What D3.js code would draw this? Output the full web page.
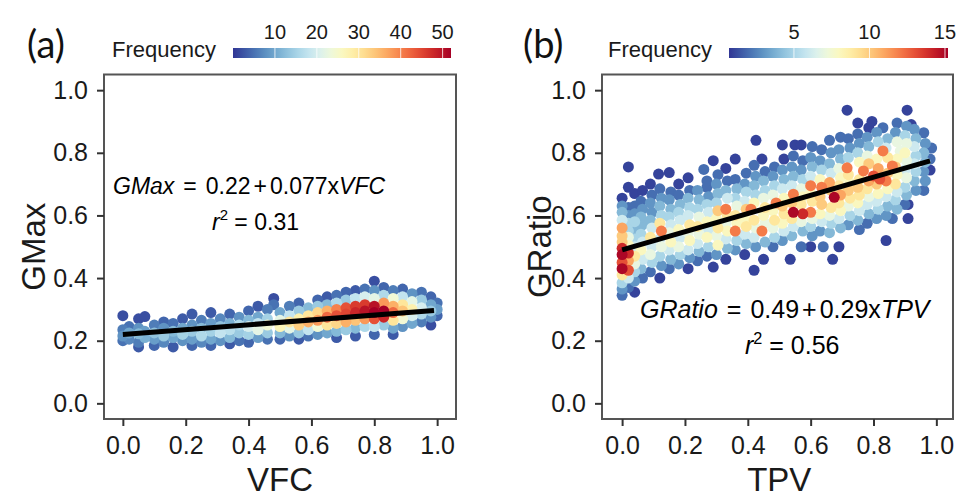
<!DOCTYPE html>
<html>
<head>
<meta charset="utf-8">
<script src="https://cdn.jsdelivr.net/npm/d3@7"></script>
<style>
  body { margin: 0; background: #fff; }
  svg { display: block; }
</style>
</head>
<body>
<svg id="chart" width="957" height="497"></svg>
<script>
// ---- shared axis ticks ----
const axisTicks = [0.0, 0.2, 0.4, 0.6, 0.8, 1.0];

// ---- panel (a): GMax vs VFC, [VFC, GMax, frequency] ----
const vfcPoints = [
  [0.00,0.280,2],[0.00,0.235,6],[0.00,0.215,8],[0.00,0.200,5],
  [0.02,0.225,10],[0.02,0.205,7],[0.02,0.245,5],
  [0.05,0.270,2],[0.05,0.222,12],[0.05,0.195,6],[0.05,0.240,8],[0.05,0.180,3],
  [0.07,0.277,2],[0.07,0.210,11],[0.07,0.230,9],
  [0.10,0.250,6],[0.10,0.225,13],[0.10,0.205,9],[0.10,0.185,4],
  [0.13,0.240,8],[0.13,0.215,14],[0.13,0.195,7],[0.13,0.260,4],
  [0.16,0.255,5],[0.16,0.230,12],[0.16,0.210,10],[0.16,0.180,3],
  [0.19,0.270,3],[0.19,0.240,10],[0.19,0.220,15],[0.19,0.200,8],
  [0.22,0.285,3],[0.22,0.250,8],[0.22,0.230,14],[0.22,0.205,9],[0.22,0.185,4],
  [0.25,0.265,6],[0.25,0.240,12],[0.25,0.215,16],[0.25,0.195,7],
  [0.28,0.290,3],[0.28,0.255,9],[0.28,0.230,15],[0.28,0.205,10],[0.28,0.185,4],
  [0.31,0.270,7],[0.31,0.245,13],[0.31,0.225,18],[0.31,0.200,8],
  [0.34,0.285,4],[0.34,0.255,11],[0.34,0.235,17],[0.34,0.210,12],[0.34,0.190,3],
  [0.37,0.275,8],[0.37,0.250,16],[0.37,0.225,14],[0.37,0.200,5],
  [0.40,0.295,4],[0.40,0.265,12],[0.40,0.245,20],[0.40,0.220,15],[0.40,0.195,4],
  [0.43,0.310,3],[0.43,0.275,10],[0.43,0.255,18],[0.43,0.235,22],[0.43,0.210,9],
  [0.46,0.300,6],[0.46,0.270,15],[0.46,0.250,24],[0.46,0.225,14],[0.46,0.205,5],
  [0.48,0.335,2],[0.48,0.315,5],
  [0.50,0.290,10],[0.50,0.265,22],[0.50,0.245,27],[0.50,0.225,12],[0.50,0.205,4],
  [0.53,0.310,6],[0.53,0.280,18],[0.53,0.260,30],[0.53,0.240,22],[0.53,0.215,8],
  [0.56,0.320,4],[0.56,0.295,14],[0.56,0.270,28],[0.56,0.250,33],[0.56,0.225,14],[0.56,0.205,3],
  [0.59,0.305,12],[0.59,0.280,30],[0.59,0.260,36],[0.59,0.235,18],[0.59,0.215,5],
  [0.62,0.330,4],[0.62,0.310,14],[0.62,0.290,32],[0.62,0.265,38],[0.62,0.245,24],[0.62,0.220,8],
  [0.65,0.340,3],[0.65,0.315,12],[0.65,0.295,36],[0.65,0.275,42],[0.65,0.250,30],[0.65,0.225,10],
  [0.68,0.345,5],[0.68,0.320,16],[0.68,0.300,40],[0.68,0.280,44],[0.68,0.255,32],[0.68,0.230,12],[0.68,0.210,3],
  [0.71,0.355,4],[0.71,0.330,14],[0.71,0.305,44],[0.71,0.285,45],[0.71,0.260,36],[0.71,0.235,14],
  [0.74,0.360,3],[0.74,0.335,18],[0.74,0.310,46],[0.74,0.290,48],[0.74,0.265,34],[0.74,0.240,12],[0.74,0.215,3],
  [0.77,0.365,5],[0.77,0.340,20],[0.77,0.315,46],[0.77,0.295,50],[0.77,0.270,38],[0.77,0.245,16],
  [0.80,0.390,2],[0.80,0.360,8],[0.80,0.335,22],[0.80,0.310,50],[0.80,0.290,52],[0.80,0.270,44],[0.80,0.245,18],[0.80,0.220,4],
  [0.83,0.370,4],[0.83,0.345,16],[0.83,0.320,38],[0.83,0.295,52],[0.83,0.275,48],[0.83,0.250,14],
  [0.86,0.360,6],[0.86,0.335,24],[0.86,0.310,36],[0.86,0.290,42],[0.86,0.265,30],[0.86,0.240,10],[0.86,0.220,3],
  [0.89,0.365,4],[0.89,0.340,18],[0.89,0.315,30],[0.89,0.295,34],[0.89,0.270,24],[0.89,0.245,8],
  [0.92,0.350,8],[0.92,0.325,22],[0.92,0.300,28],[0.92,0.280,20],[0.92,0.255,10],
  [0.95,0.355,5],[0.95,0.330,14],[0.95,0.305,20],[0.95,0.285,16],[0.95,0.260,6],
  [0.98,0.340,4],[0.98,0.315,10],[0.98,0.295,14],[0.98,0.275,8],[0.98,0.250,2],
  [1.00,0.320,5],[1.00,0.300,9],[1.00,0.280,4]
];
const fitA = [0.22, 0.077];          // intercept, slope
const fitRangeA = [0.0, 0.99];
const freqDomainA = [0, 52];
const legendTicksA = [10, 20, 30, 40, 50];

// ---- panel (b): GRatio vs TPV, [TPV, GRatio, frequency] ----
const tpvPoints = [
  [0.00,0.345,2],[0.00,0.365,3],[0.00,0.385,5],[0.00,0.410,9],[0.00,0.430,15],[0.00,0.450,13],[0.00,0.475,15],[0.00,0.495,14],[0.00,0.515,10],[0.00,0.535,10],[0.00,0.560,11],[0.00,0.585,6],[0.00,0.610,4],[0.00,0.630,3],[0.00,0.655,1],
  [0.02,0.370,2],[0.02,0.400,6],[0.02,0.425,13],[0.02,0.455,11],[0.02,0.480,14],[0.02,0.505,8],[0.02,0.530,7],[0.02,0.550,5],[0.02,0.575,5],[0.02,0.600,3],[0.02,0.625,2],[0.02,0.690,1],[0.02,0.755,1],
  [0.04,0.355,1],[0.04,0.390,3],[0.04,0.420,5],[0.04,0.445,7],[0.04,0.470,9],[0.04,0.500,6],[0.04,0.525,5],[0.04,0.555,4],[0.04,0.580,5],[0.04,0.605,3],[0.04,0.630,2],[0.04,0.670,1],
  [0.065,0.400,2],[0.06,0.430,4],[0.065,0.460,6],[0.06,0.490,8],[0.065,0.515,6],[0.06,0.540,5],[0.065,0.570,4],[0.06,0.595,4],[0.065,0.620,3],[0.06,0.645,2],[0.065,0.680,1],
  [0.09,0.420,2],[0.095,0.450,5],[0.09,0.475,7],[0.095,0.500,6],[0.09,0.530,9],[0.095,0.560,6],[0.09,0.585,4],[0.095,0.610,3],[0.09,0.640,3],[0.095,0.665,2],[0.09,0.700,1],
  [0.12,0.400,1],[0.125,0.440,3],[0.12,0.470,5],[0.125,0.500,7],[0.12,0.525,6],[0.125,0.550,12],[0.12,0.575,9],[0.125,0.600,5],[0.12,0.630,4],[0.125,0.655,3],[0.12,0.685,2],[0.116,0.732,1],
  [0.15,0.430,2],[0.155,0.460,4],[0.15,0.490,6],[0.155,0.515,8],[0.15,0.545,7],[0.155,0.570,6],[0.15,0.595,5],[0.155,0.620,4],[0.15,0.650,3],[0.155,0.675,2],[0.15,0.737,1],
  [0.18,0.445,3],[0.185,0.475,5],[0.18,0.500,7],[0.185,0.530,6],[0.18,0.555,8],[0.185,0.585,6],[0.18,0.610,5],[0.185,0.635,4],[0.18,0.665,2],[0.18,0.700,1],
  [0.21,0.430,1],[0.215,0.465,3],[0.21,0.490,6],[0.215,0.520,8],[0.21,0.545,7],[0.215,0.570,9],[0.21,0.600,6],[0.215,0.625,5],[0.21,0.655,4],[0.215,0.680,2],[0.21,0.720,1],
  [0.24,0.455,2],[0.245,0.485,4],[0.24,0.510,6],[0.245,0.540,7],[0.24,0.565,9],[0.245,0.595,7],[0.24,0.620,5],[0.245,0.650,4],[0.24,0.680,3],[0.26,0.747,2],
  [0.27,0.470,2],[0.275,0.500,5],[0.27,0.530,8],[0.275,0.555,6],[0.27,0.580,8],[0.275,0.610,6],[0.27,0.635,5],[0.275,0.660,3],[0.27,0.690,2],[0.27,0.710,2],
  [0.29,0.435,1],[0.29,0.775,1],
  [0.30,0.475,3],[0.305,0.505,8],[0.30,0.535,7],[0.305,0.560,9],[0.30,0.590,8],[0.305,0.615,10],[0.30,0.640,5],[0.305,0.670,4],[0.30,0.700,3],[0.305,0.730,2],
  [0.33,0.460,1],[0.335,0.495,4],[0.33,0.525,6],[0.335,0.550,8],[0.33,0.575,7],[0.335,0.600,9],[0.33,0.620,12],[0.335,0.655,6],[0.33,0.680,4],[0.335,0.710,2],[0.33,0.750,1],
  [0.36,0.490,3],[0.365,0.520,5],[0.36,0.550,12],[0.365,0.575,8],[0.36,0.600,9],[0.365,0.630,7],[0.36,0.655,5],[0.365,0.685,4],[0.36,0.715,2],[0.36,0.780,1],
  [0.39,0.475,1],[0.395,0.510,4],[0.39,0.540,6],[0.395,0.565,9],[0.39,0.590,8],[0.395,0.620,10],[0.39,0.645,6],[0.395,0.675,5],[0.39,0.700,3],[0.395,0.735,2],
  [0.42,0.425,1],[0.425,0.500,3],[0.42,0.530,6],[0.425,0.560,7],[0.42,0.585,9],[0.41,0.620,12],[0.42,0.640,8],[0.425,0.665,5],[0.42,0.695,4],[0.425,0.725,3],[0.42,0.760,2],[0.426,0.840,1],
  [0.45,0.460,1],[0.455,0.515,4],[0.445,0.550,12],[0.455,0.575,7],[0.45,0.600,8],[0.455,0.625,9],[0.45,0.655,7],[0.455,0.680,5],[0.45,0.710,4],[0.455,0.740,2],[0.445,0.780,1],
  [0.48,0.500,2],[0.485,0.530,5],[0.48,0.560,7],[0.485,0.585,9],[0.48,0.615,8],[0.49,0.640,12],[0.48,0.665,7],[0.485,0.695,5],[0.48,0.725,3],[0.485,0.755,2],
  [0.51,0.520,3],[0.515,0.550,6],[0.51,0.575,8],[0.515,0.605,9],[0.51,0.630,10],[0.515,0.655,8],[0.51,0.685,6],[0.515,0.715,4],[0.51,0.745,3],[0.515,0.780,1],[0.51,0.825,1],
  [0.535,0.460,1],[0.54,0.535,4],[0.545,0.565,6],[0.54,0.590,9],[0.545,0.610,15],[0.54,0.640,10],[0.545,0.668,12],[0.54,0.695,6],[0.545,0.725,4],[0.54,0.755,3],[0.545,0.790,2],[0.55,0.825,1],
  [0.57,0.500,2],[0.575,0.550,4],[0.57,0.580,7],[0.575,0.605,14],[0.57,0.635,9],[0.575,0.660,8],[0.57,0.685,7],[0.575,0.715,5],[0.57,0.745,3],[0.575,0.775,2],[0.57,0.825,1],
  [0.60,0.500,1],[0.605,0.535,3],[0.60,0.565,5],[0.605,0.590,7],[0.60,0.610,12],[0.605,0.645,9],[0.60,0.670,8],[0.60,0.695,12],[0.60,0.725,6],[0.605,0.755,4],[0.60,0.785,3],[0.605,0.820,2],
  [0.63,0.550,3],[0.635,0.580,6],[0.63,0.605,8],[0.635,0.635,10],[0.63,0.660,10],[0.635,0.690,12],[0.63,0.715,8],[0.635,0.745,5],[0.63,0.775,3],[0.635,0.810,2],
  [0.67,0.460,1],[0.64,0.500,2],[0.66,0.545,4],[0.665,0.575,5],[0.66,0.600,7],[0.665,0.625,9],[0.675,0.658,15],[0.665,0.680,10],[0.66,0.705,11],[0.665,0.735,6],[0.66,0.765,4],[0.665,0.800,3],[0.66,0.840,2],
  [0.69,0.500,1],[0.695,0.560,4],[0.69,0.590,6],[0.695,0.615,8],[0.69,0.640,9],[0.695,0.665,11],[0.69,0.695,9],[0.695,0.720,8],[0.69,0.750,7],[0.695,0.780,4],[0.69,0.810,3],[0.695,0.850,2],
  [0.716,0.936,1],[0.72,0.570,3],[0.725,0.600,5],[0.72,0.630,7],[0.725,0.655,9],[0.72,0.680,10],[0.725,0.705,8],[0.72,0.730,9],[0.716,0.752,12],[0.72,0.785,5],[0.725,0.815,3],[0.72,0.845,2],
  [0.75,0.895,1],[0.755,0.555,2],[0.75,0.585,4],[0.755,0.615,6],[0.75,0.640,8],[0.755,0.665,9],[0.75,0.690,10],[0.755,0.715,9],[0.768,0.742,12],[0.755,0.770,8],[0.75,0.800,5],[0.755,0.830,3],[0.75,0.860,2],
  [0.78,0.575,2],[0.785,0.605,4],[0.78,0.635,6],[0.785,0.660,7],[0.78,0.685,9],[0.785,0.710,11],[0.80,0.726,13],[0.785,0.765,10],[0.78,0.790,7],[0.785,0.820,4],[0.78,0.850,3],[0.785,0.880,1],
  [0.795,0.900,1],[0.81,0.590,3],[0.815,0.620,5],[0.81,0.645,6],[0.815,0.670,8],[0.81,0.700,10],[0.82,0.716,13],[0.815,0.750,11],[0.81,0.780,8],[0.83,0.806,12],[0.815,0.835,5],[0.81,0.865,3],
  [0.84,0.520,1],[0.83,0.880,2],[0.84,0.600,3],[0.845,0.630,4],[0.84,0.660,6],[0.845,0.685,8],[0.84,0.710,12],[0.845,0.735,10],[0.86,0.758,12],[0.845,0.785,9],[0.84,0.815,6],[0.845,0.845,4],
  [0.86,0.590,2],[0.875,0.620,4],[0.87,0.650,5],[0.875,0.675,6],[0.87,0.700,9],[0.875,0.730,8],[0.87,0.755,10],[0.875,0.780,8],[0.885,0.805,7],[0.875,0.835,7],[0.87,0.865,3],[0.875,0.895,2],
  [0.91,0.590,1],[0.90,0.635,2],[0.905,0.665,4],[0.90,0.690,5],[0.905,0.720,7],[0.90,0.745,6],[0.905,0.775,7],[0.90,0.800,8],[0.905,0.830,7],[0.90,0.855,5],[0.905,0.885,3],[0.907,0.936,1],
  [0.91,0.635,1],[0.935,0.680,3],[0.93,0.710,4],[0.935,0.740,5],[0.93,0.765,6],[0.935,0.790,5],[0.93,0.820,6],[0.935,0.845,4],[0.93,0.875,3],[0.92,0.890,1],
  [0.96,0.680,2],[0.965,0.710,3],[0.96,0.740,3],[0.965,0.770,4],[0.96,0.800,4],[0.965,0.830,3],[0.96,0.864,2],
  [0.98,0.745,1],[0.98,0.780,2],[0.985,0.815,2]
];
const fitB = [0.49, 0.29];
const fitRangeB = [0.0, 0.98];
const freqDomainB = [0.7, 15.2];
const legendTicksB = [5, 10, 15];

// ---- drawing ----
const svg = d3.select("#chart");
const defs = svg.append("defs");
const tickFont = "'Liberation Sans', Arial, sans-serif";
const plotTop = 74.5, plotBottom = 419;

function drawPanel(cfg) {
  const g = svg.append("g");
  const x = d3.scaleLinear().domain(cfg.xDomain).range([cfg.left, cfg.right]);
  const y = d3.scaleLinear().domain([-0.05, 1.05]).range([plotBottom, plotTop]);
  const color = d3.scaleSequential(t => d3.interpolateRdYlBu(1 - t)).domain(cfg.freqDomain);

  // density-coloured points, highest frequency drawn last
  const pts = cfg.points.slice().sort((a, b) => a[2] - b[2]);
  g.append("g").selectAll("circle").data(pts).join("circle")
    .attr("cx", d => x(d[0]))
    .attr("cy", d => y(d[1]))
    .attr("r", 5.5)
    .attr("fill", d => color(d[2]));

  // least-squares fit
  const [b0, b1] = cfg.fit;
  g.append("line")
    .attr("x1", x(cfg.fitRange[0])).attr("y1", y(b0 + b1 * cfg.fitRange[0]))
    .attr("x2", x(cfg.fitRange[1])).attr("y2", y(b0 + b1 * cfg.fitRange[1]))
    .attr("stroke", "#000").attr("stroke-width", 5);

  // panel border
  g.append("rect")
    .attr("x", cfg.left).attr("y", plotTop)
    .attr("width", cfg.right - cfg.left).attr("height", plotBottom - plotTop)
    .attr("fill", "none").attr("stroke", "#555").attr("stroke-width", 2);

  // axes
  const fmt = d3.format(".1f");
  const xAxis = g.append("g").attr("transform", `translate(0,${plotBottom})`)
    .call(d3.axisBottom(x).tickValues(axisTicks).tickFormat(fmt).tickSize(7).tickPadding(10));
  const yAxis = g.append("g").attr("transform", `translate(${cfg.left},0)`)
    .call(d3.axisLeft(y).tickValues(axisTicks).tickFormat(fmt).tickSize(7).tickPadding(9));
  [xAxis, yAxis].forEach(a => {
    a.select(".domain").remove();
    a.selectAll(".tick line").attr("stroke", "#333").attr("stroke-width", 2);
    a.selectAll(".tick text").attr("fill", "#1a1a1a")
      .style("font-family", tickFont).style("font-size", "25px");
  });

  // axis titles
  g.append("text").attr("x", (x(0) + x(1)) / 2).attr("y", 491)
    .attr("text-anchor", "middle").style("font-family", tickFont).style("font-size", "33px")
    .attr("fill", "#1a1a1a").text(cfg.xTitle);
  g.append("text")
    .attr("transform", `translate(${cfg.yTitleX},${(plotTop + plotBottom) / 2}) rotate(-90)`)
    .attr("text-anchor", "middle").style("font-family", tickFont).style("font-size", "33px")
    .attr("fill", "#1a1a1a").text(cfg.yTitle);

  // panel tag
  g.append("text").attr("x", cfg.tagX).attr("y", 58)
    .style("font-family", "Lato, 'Open Sans', sans-serif").style("font-size", "38px")
    .attr("fill", "#111").text(cfg.tag);

  // colour-bar legend
  g.append("text").attr("x", cfg.legendTextX).attr("y", 57)
    .style("font-family", tickFont).style("font-size", "22px").attr("fill", "#1a1a1a")
    .text("Frequency");
  const lx = d3.scaleLinear().domain(cfg.freqDomain).range(cfg.barRange);
  const gradId = "grad-" + cfg.tag.replace(/\W/g, "");
  const grad = defs.append("linearGradient").attr("id", gradId)
    .attr("x1", "0%").attr("x2", "100%");
  d3.range(0, 1.0001, 0.05).forEach(t => {
    grad.append("stop").attr("offset", (t * 100) + "%")
      .attr("stop-color", color(cfg.freqDomain[0] + t * (cfg.freqDomain[1] - cfg.freqDomain[0])));
  });
  g.append("rect").attr("x", cfg.barRange[0]).attr("y", 48)
    .attr("width", cfg.barRange[1] - cfg.barRange[0]).attr("height", 10)
    .attr("fill", `url(#${gradId})`);
  g.append("g").selectAll("line").data(cfg.legendTicks).join("line")
    .attr("x1", d => lx(d)).attr("x2", d => lx(d))
    .attr("y1", 48).attr("y2", 58)
    .attr("stroke", "#fff").attr("stroke-width", 1).attr("opacity", 0.8);
  g.append("g").selectAll("text").data(cfg.legendTicks).join("text")
    .attr("x", d => lx(d)).attr("y", 39).attr("text-anchor", "middle")
    .style("font-family", tickFont).style("font-size", "20px").attr("fill", "#1a1a1a")
    .text(d => d);

  // regression equation and r-squared
  const eq = g.append("text").attr("x", cfg.eqX).attr("y", cfg.eqY)
    .style("font-family", tickFont).style("font-size", cfg.eqSize + "px").attr("fill", "#000");
  eq.append("tspan").style("font-style", "italic").text(cfg.yTitle);
  eq.append("tspan").attr("dx", cfg.eqGap).text("=");
  eq.append("tspan").attr("dx", cfg.eqGap).text(b0.toFixed(2));
  eq.append("tspan").attr("dx", 3).text("+");
  eq.append("tspan").attr("dx", 3).text(String(b1) + "x");
  eq.append("tspan").style("font-style", "italic").text(cfg.xTitle);

  const r2 = g.append("text").attr("x", cfg.r2X).attr("y", cfg.r2Y)
    .style("font-family", tickFont).style("font-size", cfg.eqSize + "px").attr("fill", "#000");
  r2.append("tspan").style("font-style", "italic").text("r");
  r2.append("tspan").attr("dy", -10).style("font-size", (cfg.eqSize * 0.65) + "px").text("2");
  r2.append("tspan").attr("dy", 10).text(" = " + cfg.r2);
}

drawPanel({
  points: vfcPoints, fit: fitA, fitRange: fitRangeA, freqDomain: freqDomainA,
  legendTicks: legendTicksA, xDomain: [-0.06, 1.06], left: 104, right: 456,
  xTitle: "VFC", yTitle: "GMax", yTitleX: 45, tag: "(a)", tagX: 27,
  legendTextX: 112, barRange: [233, 451],
  eqX: 113, eqY: 194, eqSize: 23, eqGap: 9, r2X: 212, r2Y: 230, r2: "0.31"
});

drawPanel({
  points: tpvPoints, fit: fitB, fitRange: fitRangeB, freqDomain: freqDomainB,
  legendTicks: legendTicksB, xDomain: [-0.064, 1.053], left: 602, right: 953,
  xTitle: "TPV", yTitle: "GRatio", yTitleX: 551, tag: "(b)", tagX: 523,
  legendTextX: 608, barRange: [729, 948],
  eqX: 640, eqY: 318, eqSize: 25, eqGap: 9, r2X: 745, r2Y: 354, r2: "0.56"
});
</script>
</body>
</html>
